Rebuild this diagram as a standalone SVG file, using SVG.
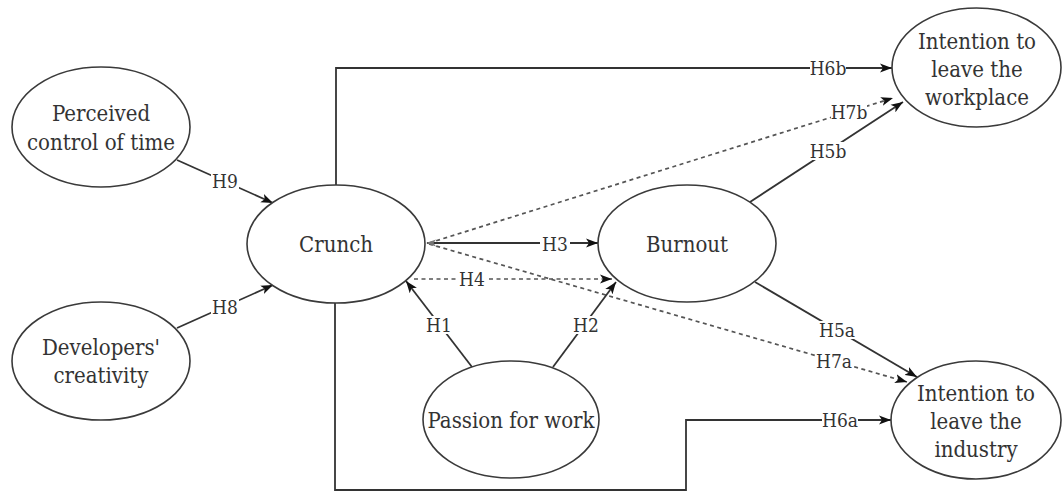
<svg xmlns="http://www.w3.org/2000/svg" width="1062" height="493" viewBox="0 0 1062 493">
  <style>
    .node ellipse { fill: #ffffff; stroke: #3a3a3a; stroke-width: 1.6; }
    .node text { font-family: 'DejaVu Serif', serif; font-stretch: condensed; font-size: 22px; fill: #333333; text-anchor: middle; }
    .edge { fill: none; stroke: #333333; stroke-width: 1.8; }
    .dash { fill: none; stroke: #555555; stroke-width: 1.7; stroke-dasharray: 4 3.5; }
    .lbl rect { fill: #ffffff; }
    .lbl text { font-family: 'DejaVu Serif', serif; font-stretch: condensed; font-size: 19px; fill: #333333; text-anchor: middle; }
  </style>
  <defs>
    <marker id="arrow" markerUnits="userSpaceOnUse" markerWidth="14" markerHeight="10" refX="12" refY="5" orient="auto">
      <path d="M0,0.5 L12,5 L0,9.5 L3,5 Z" fill="#111111"/>
    </marker>
  </defs>

  <rect width="1062" height="493" fill="#ffffff"/>

  <!-- connectors -->
  <g id="connectors">
    <path id="e-h9" class="edge" d="M177,160 L273,203" marker-end="url(#arrow)"/>
    <path id="e-h8" class="edge" d="M177,328 L273,285" marker-end="url(#arrow)"/>
    <path id="e-h6b" class="edge" d="M336,185 V68 H892" marker-end="url(#arrow)"/>
    <path id="e-h6a" class="edge" d="M335,303 V490 H686 V420 H891" marker-end="url(#arrow)"/>
    <path id="e-h3" class="edge" d="M427,243 H598" marker-end="url(#arrow)"/>
    <path id="e-h4" class="dash" d="M414,279 H612" marker-end="url(#arrow)"/>
    <path id="e-h7b" class="dash" d="M429,243 L893,98" marker-end="url(#arrow)"/>
    <path id="e-h7a" class="dash" d="M429,244 L907,382" marker-end="url(#arrow)"/>
    <path id="e-h5b" class="edge" d="M750,202 L903,102" marker-end="url(#arrow)"/>
    <path id="e-h5a" class="edge" d="M755,282 L917,377" marker-end="url(#arrow)"/>
    <path id="e-h1" class="edge" d="M472,367 L406,281" marker-end="url(#arrow)"/>
    <path id="e-h2" class="edge" d="M553,367 L616,282" marker-end="url(#arrow)"/>
    <!-- small tip where the Crunch paths start -->
    <path d="M426,243 L436,239.5 L433.5,243 L436,246.5 Z" fill="#777777"/>

    <!-- hypothesis labels, each on a white patch that breaks its line -->
    <g class="lbl">
      <rect x="211" y="172" width="28" height="18"/><text x="225" y="188">H9</text>
      <rect x="211" y="298" width="28" height="18"/><text x="225" y="314">H8</text>
      <rect x="540" y="235" width="30" height="18"/><text x="555" y="251">H3</text>
      <rect x="457" y="270" width="30" height="18"/><text x="472" y="286">H4</text>
      <rect x="426" y="316" width="26" height="18"/><text x="439" y="332">H1</text>
      <rect x="572" y="316" width="28" height="18"/><text x="586" y="332">H2</text>
      <rect x="810" y="59" width="36" height="18"/><text x="828" y="75">H6b</text>
      <rect x="831" y="103" width="36" height="18"/><text x="849" y="119">H7b</text>
      <rect x="810" y="142" width="36" height="18"/><text x="828" y="158">H5b</text>
      <rect x="819" y="321" width="36" height="18"/><text x="837" y="337">H5a</text>
      <rect x="816" y="352" width="36" height="18"/><text x="834" y="368">H7a</text>
      <rect x="822" y="411" width="36" height="18"/><text x="840" y="427">H6a</text>
    </g>
  </g>

  <!-- nodes -->
  <g id="perceived-control" class="node">
    <ellipse cx="101" cy="127" rx="89" ry="60"/>
    <text x="101" y="121">Perceived</text>
    <text x="101" y="150">control of time</text>
  </g>
  <g id="developers-creativity" class="node">
    <ellipse cx="101" cy="361" rx="89" ry="59"/>
    <text x="101" y="355">Developers'</text>
    <text x="101" y="383">creativity</text>
  </g>
  <g id="crunch" class="node">
    <ellipse cx="336" cy="244" rx="89" ry="59"/>
    <text x="336" y="252">Crunch</text>
  </g>
  <g id="burnout" class="node">
    <ellipse cx="687" cy="243.5" rx="89" ry="58.5"/>
    <text x="687" y="252">Burnout</text>
  </g>
  <g id="passion" class="node">
    <ellipse cx="511" cy="419.5" rx="88" ry="58.5"/>
    <text x="511" y="428">Passion for work</text>
  </g>
  <g id="leave-workplace" class="node">
    <ellipse cx="976.5" cy="67.5" rx="84.5" ry="59.5"/>
    <text x="977" y="49">Intention to</text>
    <text x="977" y="77">leave the</text>
    <text x="977" y="105">workplace</text>
  </g>
  <g id="leave-industry" class="node">
    <ellipse cx="976" cy="420" rx="85" ry="59"/>
    <text x="976" y="401">Intention to</text>
    <text x="976" y="429">leave the</text>
    <text x="976" y="457">industry</text>
  </g>
</svg>
